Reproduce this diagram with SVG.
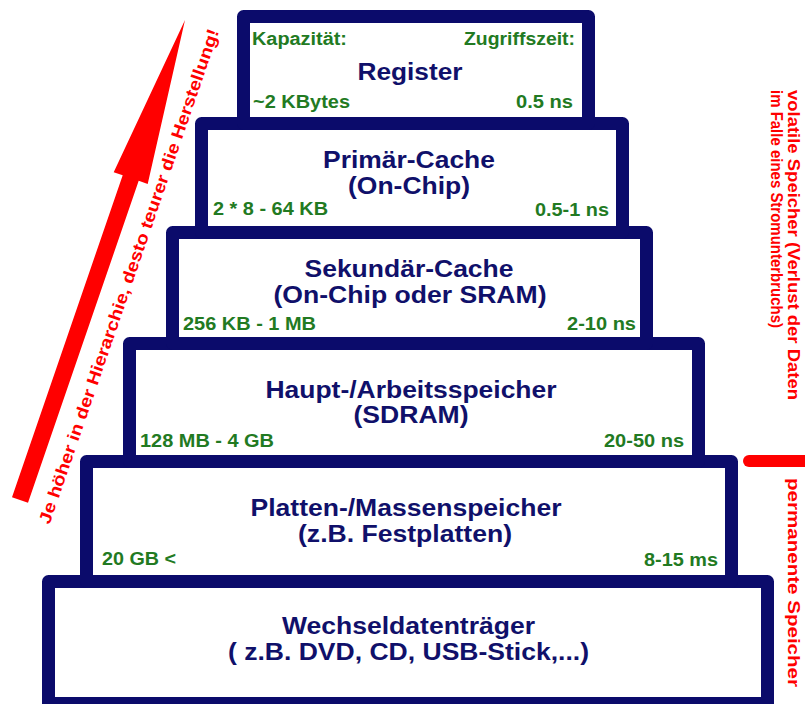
<svg xmlns="http://www.w3.org/2000/svg" width="805" height="704" viewBox="0 0 805 704">
<style>
.box{fill:#fff;stroke:#0b0b6b;stroke-width:13;stroke-linejoin:round}
.t{font-family:"Liberation Sans",Arial,sans-serif;font-weight:bold;font-size:23px;fill:#10106a;text-anchor:middle}
.g{font-family:"Liberation Sans",Arial,sans-serif;font-weight:bold;font-size:17.5px;fill:#227a22}
.e{text-anchor:end}
.r{font-family:"Liberation Sans",Arial,sans-serif;font-weight:bold;font-size:16.5px;fill:#f00}
</style>
<rect width="805" height="704" fill="#fff"/>
<g id="annotations">
<polygon points="12,497.2 122.7,175.2 113.7,172.2 185,20 147.7,183.9 138.7,180.8 28,502.8" fill="#f00"/>
<text class="r" style="font-size:17px" transform="translate(49.5,524.9) rotate(-71.03)" textLength="522" lengthAdjust="spacingAndGlyphs">Je höher in der Hierarchie, desto teurer die Herstellung!</text>
<text class="r" transform="translate(788,90) rotate(90)" textLength="310" lengthAdjust="spacingAndGlyphs">volatile Speicher (Verlust der Daten</text>
<text class="r" transform="translate(771,90) rotate(90)" textLength="238" lengthAdjust="spacingAndGlyphs">im Falle eines Stromunterbruchs)</text>
<line x1="749" y1="461" x2="812" y2="461" stroke="#f00" stroke-width="12" stroke-linecap="round"/>
<text class="r" transform="translate(788,478) rotate(90)" textLength="209" lengthAdjust="spacingAndGlyphs">permanente Speicher</text>
</g>
<g id="wechseldatentraeger">
<rect class="box" x="48.5" y="581.5" width="719" height="122"/>
<text class="t" x="408.5" y="634" textLength="253" lengthAdjust="spacingAndGlyphs">Wechseldatenträger</text>
<text class="t" x="408.5" y="660" textLength="361" lengthAdjust="spacingAndGlyphs">( z.B. DVD, CD, USB-Stick,...)</text>
</g>
<g id="platten">
<rect class="box" x="86.5" y="461.5" width="645" height="120"/>
<text class="t" x="406" y="516" textLength="311" lengthAdjust="spacingAndGlyphs">Platten-/Massenspeicher</text>
<text class="t" x="405" y="542" textLength="214" lengthAdjust="spacingAndGlyphs">(z.B. Festplatten)</text>
<text class="g" x="102" y="565" textLength="74" lengthAdjust="spacingAndGlyphs">20 GB &lt;</text>
<text class="g e" x="718" y="566" textLength="74" lengthAdjust="spacingAndGlyphs">8-15 ms</text>
</g>
<g id="hauptspeicher">
<rect class="box" x="129.5" y="343.5" width="569" height="118"/>
<text class="t" x="411" y="398" textLength="291" lengthAdjust="spacingAndGlyphs">Haupt-/Arbeitsspeicher</text>
<text class="t" x="411" y="423" textLength="115" lengthAdjust="spacingAndGlyphs">(SDRAM)</text>
<text class="g" x="140" y="447" textLength="134" lengthAdjust="spacingAndGlyphs">128 MB - 4 GB</text>
<text class="g e" x="684" y="447" textLength="80" lengthAdjust="spacingAndGlyphs">20-50 ns</text>
</g>
<g id="sekundaer-cache">
<rect class="box" x="172.5" y="232.5" width="474" height="111"/>
<text class="t" x="409" y="277" textLength="209" lengthAdjust="spacingAndGlyphs">Sekundär-Cache</text>
<text class="t" x="410" y="303" textLength="273" lengthAdjust="spacingAndGlyphs">(On-Chip oder SRAM)</text>
<text class="g" x="183" y="330" textLength="133" lengthAdjust="spacingAndGlyphs">256 KB - 1 MB</text>
<text class="g e" x="636" y="330" textLength="69" lengthAdjust="spacingAndGlyphs">2-10 ns</text>
</g>
<g id="primaer-cache">
<rect class="box" x="201.5" y="123.5" width="421" height="109"/>
<text class="t" x="409" y="168" textLength="172" lengthAdjust="spacingAndGlyphs">Primär-Cache</text>
<text class="t" x="409" y="194" textLength="122" lengthAdjust="spacingAndGlyphs">(On-Chip)</text>
<text class="g" x="213" y="215" textLength="115" lengthAdjust="spacingAndGlyphs">2 * 8 - 64 KB</text>
<text class="g e" x="609" y="216" textLength="74" lengthAdjust="spacingAndGlyphs">0.5-1 ns</text>
</g>
<g id="register">
<rect class="box" x="243.5" y="16.5" width="345" height="107"/>
<text class="g" x="252" y="45" textLength="95" lengthAdjust="spacingAndGlyphs">Kapazität:</text>
<text class="g e" x="575" y="45" textLength="111" lengthAdjust="spacingAndGlyphs">Zugriffszeit:</text>
<text class="t" x="410" y="80" textLength="105" lengthAdjust="spacingAndGlyphs">Register</text>
<text class="g" x="253" y="108" textLength="97" lengthAdjust="spacingAndGlyphs">~2 KBytes</text>
<text class="g e" x="573" y="108" textLength="57" lengthAdjust="spacingAndGlyphs">0.5 ns</text>
</g>
</svg>
